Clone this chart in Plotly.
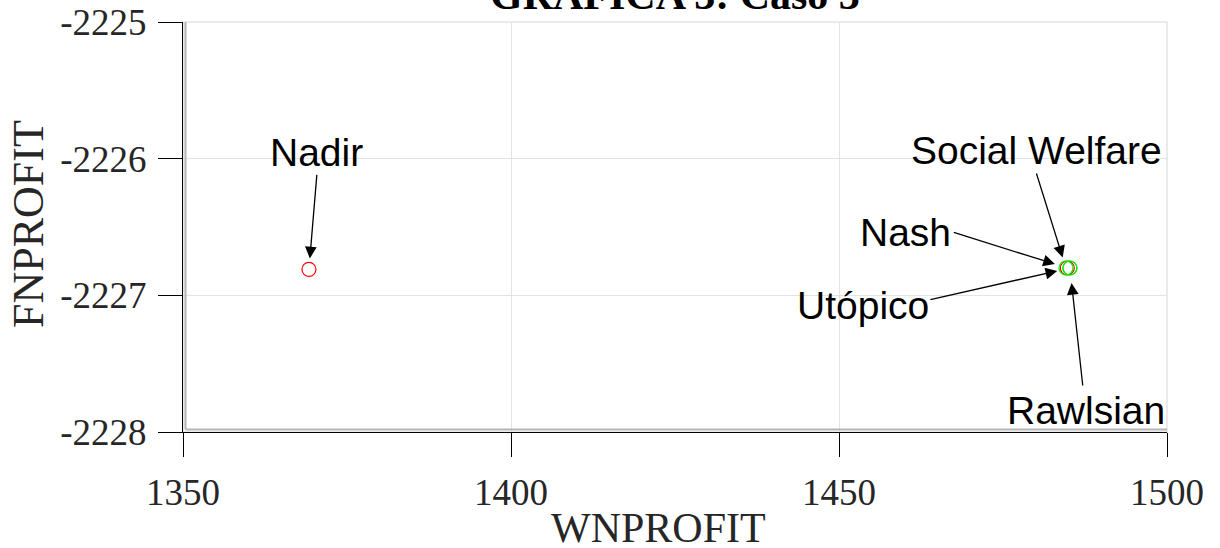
import plotly.graph_objects as go

# Solution points (WNPROFIT, FNPROFIT)
labels = ["Nadir", "Utópico", "Nash", "Social Welfare", "Rawlsian"]
wn_profit = [1369.2, 1485.2, 1484.8, 1484.6, 1485.2]
fn_profit = [-2226.81, -2226.80, -2226.80, -2226.80, -2226.80]
colors = ["#ff0000", "#00ee00", "#ff0000", "#00ee00", "#00ee00"]

x_ticks = [1350, 1400, 1450, 1500]
x_tick_text = ["1350", "1400", "1450", "1500"]
y_ticks = [-2228, -2227, -2226, -2225]
y_tick_text = ["-2228", "-2227", "-2226", "-2225"]

title_text = "GRAFICA 3: Caso 3"
x_title = "WNPROFIT"
y_title = "FNPROFIT"

# Label placement: (text offset x, text offset y, arrow tail x, arrow tail y, standoff) in px
label_style = {
    "Nadir": (8, 117, 8, -96, 11),
    "Social Welfare": (-29, 118, -30, -96, 11),
    "Nash": (-162, 36, -115, -36, 13),
    "Utópico": (-207, -37, -141, 32, 13),
    "Rawlsian": (16, -142, 13, 119, 15),
}

serif = "Times New Roman, Liberation Serif, serif"
sans = "Arial, Liberation Sans, sans-serif"
ink = "#262626"

fig = go.Figure()
for name, xv, yv, c in zip(labels, wn_profit, fn_profit, colors):
    fig.add_trace(go.Scatter(
        x=[xv], y=[yv], mode="markers", name=name,
        marker=dict(symbol="circle-open", size=14, color=c, line=dict(width=1.2, color=c)),
        showlegend=False, hoverinfo="skip",
    ))

annotations = []
for name, xv, yv in zip(labels, wn_profit, fn_profit):
    tx, ty, axp, ayp, so = label_style[name]
    annotations.append(dict(
        x=xv, y=yv, xref="x", yref="y", text="", showarrow=True,
        ax=axp, ay=ayp, standoff=so, arrowhead=2, arrowsize=1.8,
        arrowwidth=1.3, arrowcolor="black",
    ))
    annotations.append(dict(
        x=xv, y=yv, xref="x", yref="y", text=name, showarrow=False,
        xshift=tx, yshift=ty, xanchor="center", yanchor="middle",
        font=dict(family=sans, size=39, color="black"),
    ))

# Title and axis titles
annotations.append(dict(
    x=0.5, y=1, xref="paper", yref="paper", text=f"<b>{title_text}</b>",
    showarrow=False, xanchor="center", yanchor="bottom", yshift=2,
    font=dict(family=serif, size=42, color="black"),
))
annotations.append(dict(
    x=0.483, y=0, xref="paper", yref="paper", text=x_title,
    showarrow=False, xanchor="center", yanchor="middle", yshift=-96,
    font=dict(family=serif, size=42, color=ink),
))
annotations.append(dict(
    x=0, y=0.5, xref="paper", yref="paper", text=y_title, textangle=-90,
    showarrow=False, xanchor="center", yanchor="middle", xshift=-155, yshift=3,
    font=dict(family=serif, size=44, color=ink),
))

# Frame: light box plus darker inner left/bottom edges
shapes = [
    dict(type="rect", xref="paper", yref="paper", x0=0, x1=1, y0=0, y1=1,
         line=dict(color="#e3e3e3", width=1.5), layer="below"),
    dict(type="line", xref="paper", yref="paper", x0=0.0025, x1=0.0025, y0=0.006, y1=1,
         line=dict(color="#b4b4b4", width=2)),
    dict(type="line", xref="paper", yref="paper", x0=0.0025, x1=1, y0=0.006, y1=0.006,
         line=dict(color="#b4b4b4", width=2)),
]

axis_common = dict(
    showline=True, linecolor="black", linewidth=1, mirror=False,
    ticks="outside", ticklen=24, tickwidth=1, tickcolor="black",
    showgrid=True, gridcolor="#e3e3e3", gridwidth=1, zeroline=False,
    automargin=False,
    tickfont=dict(family=serif, size=37, color=ink),
)

fig.update_layout(
    width=1220, height=548,
    margin=dict(l=183, r=53, t=22, b=116),
    paper_bgcolor="white", plot_bgcolor="white",
    xaxis=dict(range=[1350, 1500], tickvals=x_ticks, ticktext=x_tick_text,
               ticklabelstandoff=4, **axis_common),
    yaxis=dict(range=[-2228, -2225], tickvals=y_ticks, ticktext=y_tick_text,
               ticklabelstandoff=4, **axis_common),
    annotations=annotations,
    shapes=shapes,
)

fig.write_html("out.html")
